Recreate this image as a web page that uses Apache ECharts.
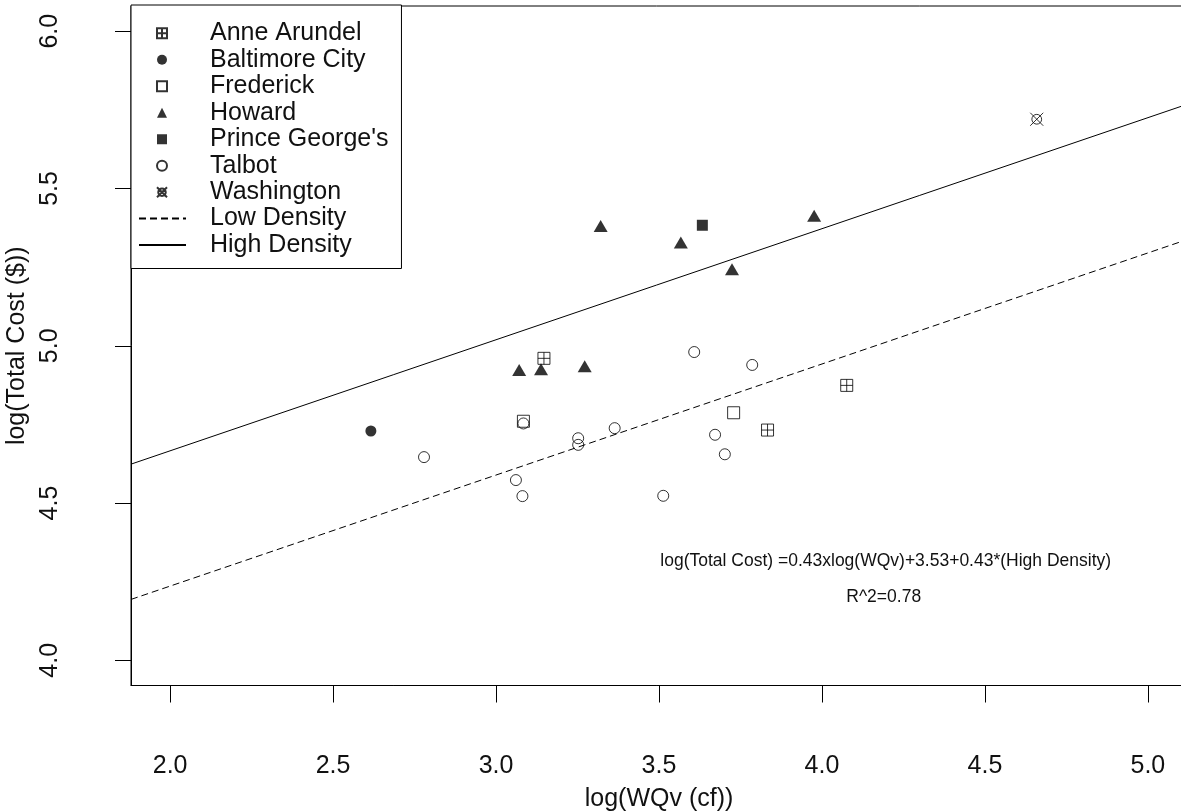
<!DOCTYPE html>
<html>
<head>
<meta charset="utf-8">
<script src="https://cdn.jsdelivr.net/npm/echarts@6/dist/echarts.min.js"></script>
<style>
  html, body { margin: 0; padding: 0; background: #fff; }
  #chart { width: 1181px; height: 812px; }
</style>
</head>
<body>
<div id="chart"></div>
<script>
// log(WQv) vs log(Total Cost) per county
const anneArundel    = [[3.147, 4.960], [3.833, 4.732], [4.076, 4.874]];
const baltimoreCity  = [[2.616, 4.729]];
const frederick      = [[3.084, 4.760], [3.729, 4.787]];
const howard         = [[3.071, 4.923], [3.138, 4.925], [3.272, 4.935], [3.321, 5.381],
                        [3.567, 5.328], [3.724, 5.243], [3.976, 5.413]];
const princeGeorges  = [[3.633, 5.383]];
const talbot         = [[2.779, 4.646], [3.061, 4.573], [3.081, 4.522], [3.084, 4.753],
                        [3.252, 4.706], [3.252, 4.685], [3.364, 4.738], [3.513, 4.523],
                        [3.608, 4.980], [3.672, 4.717], [3.702, 4.655], [3.786, 4.939]];
const washington     = [[4.659, 5.720]];

// fitted lines: low density intercept, high density shift, slope
const intercept = 3.53;
const highDensityShift = 0.43;
const slope = 0.353;
const lineEnds = [1.88, 5.12];

const xTicks = [2.0, 2.5, 3.0, 3.5, 4.0, 4.5, 5.0];
const yTicks = [4.0, 4.5, 5.0, 5.5, 6.0];

const countyNames = ['Anne Arundel', 'Baltimore City', 'Frederick', 'Howard',
                     "Prince George's", 'Talbot', 'Washington'];
const lineNames = ['Low Density', 'High Density'];

const lowLine  = lineEnds.map(x => [x, intercept + slope * x]);
const highLine = lineEnds.map(x => [x, intercept + highDensityShift + slope * x]);

const FONT = "'Liberation Sans', Arial, sans-serif";
const INK = '#111';
const FS = 25;

const boxPlus = 'path://M0,0L10,0L10,10L0,10Z M5,0L5,10 M0,5L10,5';
const circleX = 'path://M0,0L12,12 M12,0L0,12 M10.5,6A4.5,4.5,0,1,1,1.5,6A4.5,4.5,0,1,1,10.5,6Z';

const openStyle   = { color: 'rgba(0,0,0,0)', borderColor: '#000', borderWidth: 1 };
const filledStyle = { color: '#000', borderWidth: 0 };

function scatter(name, data, symbol, size, style) {
  return {
    name, type: 'scatter', data, symbol, symbolSize: size,
    itemStyle: style, emphasis: { disabled: true }, z: 3
  };
}

function fitLine(name, data, dash) {
  return {
    name, type: 'line', data, symbol: 'none',
    lineStyle: { color: '#000', width: 1, type: dash },
    itemStyle: { color: 'rgba(0,0,0,0)', borderWidth: 0 },
    emphasis: { disabled: true }, z: 2
  };
}

const chart = echarts.init(document.getElementById('chart'), null, { renderer: 'canvas' });

chart.setOption({
  animation: false,
  backgroundColor: '#fff',
  textStyle: { fontFamily: FONT, color: INK },
  grid: {
    left: 131, top: 6, width: 1056, height: 679.5,
    outerBoundsMode: 'none', containLabel: false,
    show: true, borderColor: '#000', borderWidth: 1, backgroundColor: 'transparent'
  },
  xAxis: {
    type: 'value', min: 1.88, max: 5.12,
    name: 'log(WQv (cf))', nameLocation: 'middle', nameGap: 101,
    nameTextStyle: { fontSize: FS, color: INK, fontFamily: FONT },
    axisLine: { show: true, lineStyle: { color: '#000', width: 1 } },
    axisTick: { show: true, customValues: xTicks, length: 17, lineStyle: { color: '#000' } },
    axisLabel: {
      customValues: xTicks, margin: 68, fontSize: FS, color: INK, fontFamily: FONT,
      formatter: v => v.toFixed(1)
    },
    splitLine: { show: false }
  },
  yAxis: {
    type: 'value', min: 3.92, max: 6.08,
    name: 'log(Total Cost ($))', nameLocation: 'middle', nameGap: 97, nameRotate: 90,
    nameTextStyle: { fontSize: FS, color: INK, fontFamily: FONT },
    axisLine: { show: true, lineStyle: { color: '#000', width: 1 } },
    axisTick: { show: true, customValues: yTicks, length: 16, lineStyle: { color: '#000' } },
    axisLabel: {
      customValues: yTicks, rotate: 90, margin: 68, fontSize: FS, color: INK, fontFamily: FONT,
      formatter: v => v.toFixed(1)
    },
    splitLine: { show: false }
  },
  legend: [
    {
      // county symbols, framed box also covering the line entries below
      orient: 'vertical', left: 131, top: 5,
      padding: [15, 13, 63, 25],
      itemWidth: 10, itemHeight: 10, itemGap: 0,
      backgroundColor: '#fff', borderColor: '#000', borderWidth: 1,
      selectedMode: false, z: 4,
      textStyle: { fontSize: FS, color: INK, fontFamily: FONT, lineHeight: 26.5, padding: [0, 0, 0, 38] },
      data: countyNames
    },
    {
      // fitted line entries
      orient: 'vertical', left: 138, top: 205.25,
      padding: 0,
      itemWidth: 47, itemHeight: 10, itemGap: 0,
      backgroundColor: 'transparent', borderWidth: 0,
      selectedMode: false, z: 5,
      itemStyle: { color: 'rgba(0,0,0,0)', borderColor: 'rgba(0,0,0,0)', borderWidth: 0 },
      textStyle: { fontSize: FS, color: INK, fontFamily: FONT, lineHeight: 26.5, padding: [0, 0, 0, 19] },
      data: lineNames
    }
  ],
  graphic: [
    {
      type: 'text', x: 885.7, y: 560.7,
      style: {
        text: 'log(Total Cost) =0.43xlog(WQv)+3.53+0.43*(High Density)',
        font: '17.5px ' + FONT, fill: INK, align: 'center', verticalAlign: 'middle'
      }
    },
    {
      type: 'text', x: 883.7, y: 597.3,
      style: {
        text: 'R^2=0.78',
        font: '17.5px ' + FONT, fill: INK, align: 'center', verticalAlign: 'middle'
      }
    }
  ],
  series: [
    scatter('Anne Arundel', anneArundel, boxPlus, 12, openStyle),
    scatter('Baltimore City', baltimoreCity, 'circle', 11, filledStyle),
    scatter('Frederick', frederick, 'rect', 12, openStyle),
    scatter('Howard', howard, 'triangle', [14, 12], filledStyle),
    scatter("Prince George's", princeGeorges, 'rect', 11, filledStyle),
    scatter('Talbot', talbot, 'circle', 11, openStyle),
    scatter('Washington', washington, circleX, 13, openStyle),
    fitLine('Low Density', lowLine, [7, 4]),
    fitLine('High Density', highLine, 'solid')
  ]
});
</script>
</body>
</html>
